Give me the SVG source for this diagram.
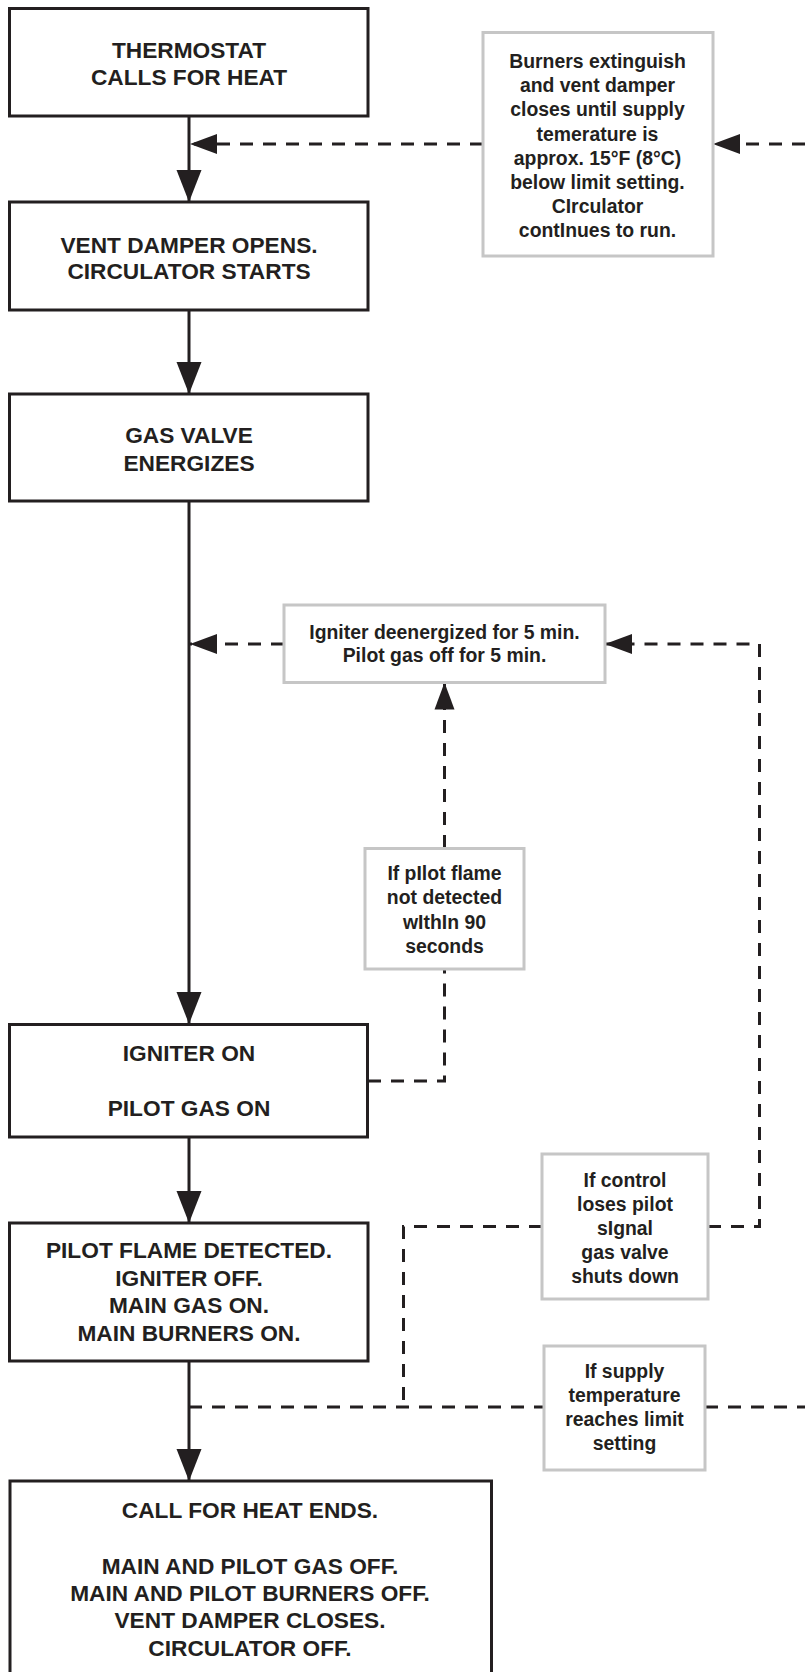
<svg xmlns="http://www.w3.org/2000/svg" width="805" height="1672" viewBox="0 0 805 1672">
<style>
.box{fill:#fff;stroke:#231f20;stroke-width:3}
.lbl{fill:#fff;stroke:#c6c6c6;stroke-width:3}
.t{font-family:"Liberation Sans",Arial,sans-serif;font-weight:bold;font-size:22.7px;fill:#231f20;text-anchor:middle}
.s{font-family:"Liberation Sans",Arial,sans-serif;font-weight:bold;font-size:19.4px;fill:#231f20;text-anchor:middle}
.solid{fill:none;stroke:#231f20;stroke-width:3}
.dash{fill:none;stroke:#231f20;stroke-width:3;stroke-dasharray:13 10}
</style>
<defs>
<marker id="ah" markerUnits="userSpaceOnUse" markerWidth="32" markerHeight="26" refX="32" refY="13" orient="auto">
<path d="M0,0.5 L32,13 L0,25.5 z" fill="#231f20"/>
</marker>
<marker id="ahd" markerUnits="userSpaceOnUse" markerWidth="27" markerHeight="21" refX="27" refY="10.5" orient="auto">
<path d="M0,0.5 L27,10.5 L0,20.5 z" fill="#231f20"/>
</marker>
</defs>
<rect width="805" height="1672" fill="#fff"/>

<g id="connectors">
<line class="solid" x1="189" y1="116" x2="189" y2="202" marker-end="url(#ah)"/>
<line class="solid" x1="189" y1="310" x2="189" y2="394" marker-end="url(#ah)"/>
<line class="solid" x1="189" y1="501" x2="189" y2="1024" marker-end="url(#ah)"/>
<line class="solid" x1="189" y1="1137" x2="189" y2="1223" marker-end="url(#ah)"/>
<line class="solid" x1="189" y1="1361" x2="189" y2="1481" marker-end="url(#ah)"/>
<line class="dash" x1="805" y1="144" x2="713" y2="144" marker-end="url(#ahd)"/>
<line class="dash" x1="483" y1="144" x2="190" y2="144" marker-end="url(#ahd)"/>
<line class="dash" x1="284" y1="644" x2="190" y2="644" marker-end="url(#ahd)"/>
<line class="dash" x1="444.5" y1="848" x2="444.5" y2="682.5" marker-end="url(#ahd)"/>
<polyline class="dash" points="368,1081 444.5,1081 444.5,969"/>
<polyline class="dash" points="708,1226.5 759.5,1226.5 759.5,644 605,644" marker-end="url(#ahd)"/>
<polyline class="dash" points="542,1226.5 403.5,1226.5 403.5,1407"/>
<line class="dash" x1="189" y1="1407" x2="544" y2="1407"/>
<line class="dash" x1="705" y1="1407" x2="805" y2="1407"/>
</g>

<g id="n-thermostat">
<rect class="box" x="9.5" y="8.5" width="358.5" height="107.5"/>
<text class="t" x="189" y="58">THERMOSTAT</text>
<text class="t" x="189" y="85">CALLS FOR HEAT</text>
</g>

<g id="n-burners">
<rect class="lbl" x="483" y="32.5" width="230" height="223.5"/>
<text class="s" x="597.5" y="68">Burners extinguish</text>
<text class="s" x="597.5" y="92.2">and vent damper</text>
<text class="s" x="597.5" y="116.4">closes until supply</text>
<text class="s" x="597.5" y="140.6">temerature is</text>
<text class="s" x="597.5" y="164.8">approx. 15°F (8°C)</text>
<text class="s" x="597.5" y="189">below limit setting.</text>
<text class="s" x="597.5" y="213.2">CIrculator</text>
<text class="s" x="597.5" y="237.4">contInues to run.</text>
</g>

<g id="n-vent">
<rect class="box" x="9.5" y="202" width="358.5" height="108"/>
<text class="t" x="189" y="253">VENT DAMPER OPENS.</text>
<text class="t" x="189" y="279">CIRCULATOR STARTS</text>
</g>

<g id="n-gas">
<rect class="box" x="9.5" y="394" width="358.5" height="107"/>
<text class="t" x="189" y="443">GAS VALVE</text>
<text class="t" x="189" y="471">ENERGIZES</text>
</g>

<g id="n-igniter-off">
<rect class="lbl" x="284" y="605" width="321" height="77.5"/>
<text class="s" x="444.5" y="638.5">Igniter deenergized for 5 min.</text>
<text class="s" x="444.5" y="662">Pilot gas off for 5 min.</text>
</g>

<g id="n-no-flame">
<rect class="lbl" x="365" y="848.5" width="159" height="120.5"/>
<text class="s" x="444.5" y="880">If pIlot flame</text>
<text class="s" x="444.5" y="904">not detected</text>
<text class="s" x="444.5" y="928.5">wIthIn 90</text>
<text class="s" x="444.5" y="952.5">seconds</text>
</g>

<g id="n-igniter-on">
<rect class="box" x="9.5" y="1024.5" width="358" height="112.5"/>
<text class="t" x="189" y="1061">IGNITER ON</text>
<text class="t" x="189" y="1116">PILOT GAS ON</text>
</g>

<g id="n-lose-signal">
<rect class="lbl" x="542" y="1154" width="166" height="145"/>
<text class="s" x="625" y="1187">If control</text>
<text class="s" x="625" y="1211">loses pilot</text>
<text class="s" x="625" y="1235">sIgnal</text>
<text class="s" x="625" y="1259">gas valve</text>
<text class="s" x="625" y="1283">shuts down</text>
</g>

<g id="n-flame-detected">
<rect class="box" x="9.5" y="1223" width="358.5" height="138"/>
<text class="t" x="189" y="1258">PILOT FLAME DETECTED.</text>
<text class="t" x="189" y="1285.5">IGNITER OFF.</text>
<text class="t" x="189" y="1313">MAIN GAS ON.</text>
<text class="t" x="189" y="1340.5">MAIN BURNERS ON.</text>
</g>

<g id="n-limit">
<rect class="lbl" x="544" y="1346" width="161" height="124"/>
<text class="s" x="624.5" y="1377.5">If supply</text>
<text class="s" x="624.5" y="1401.5">temperature</text>
<text class="s" x="624.5" y="1426">reaches limit</text>
<text class="s" x="624.5" y="1450">setting</text>
</g>

<g id="n-end">
<rect class="box" x="10" y="1481" width="481.5" height="220"/>
<text class="t" x="250" y="1518">CALL FOR HEAT ENDS.</text>
<text class="t" x="250" y="1573.5">MAIN AND PILOT GAS OFF.</text>
<text class="t" x="250" y="1600.5">MAIN AND PILOT BURNERS OFF.</text>
<text class="t" x="250" y="1628">VENT DAMPER CLOSES.</text>
<text class="t" x="250" y="1655.5">CIRCULATOR OFF.</text>
</g>
</svg>
